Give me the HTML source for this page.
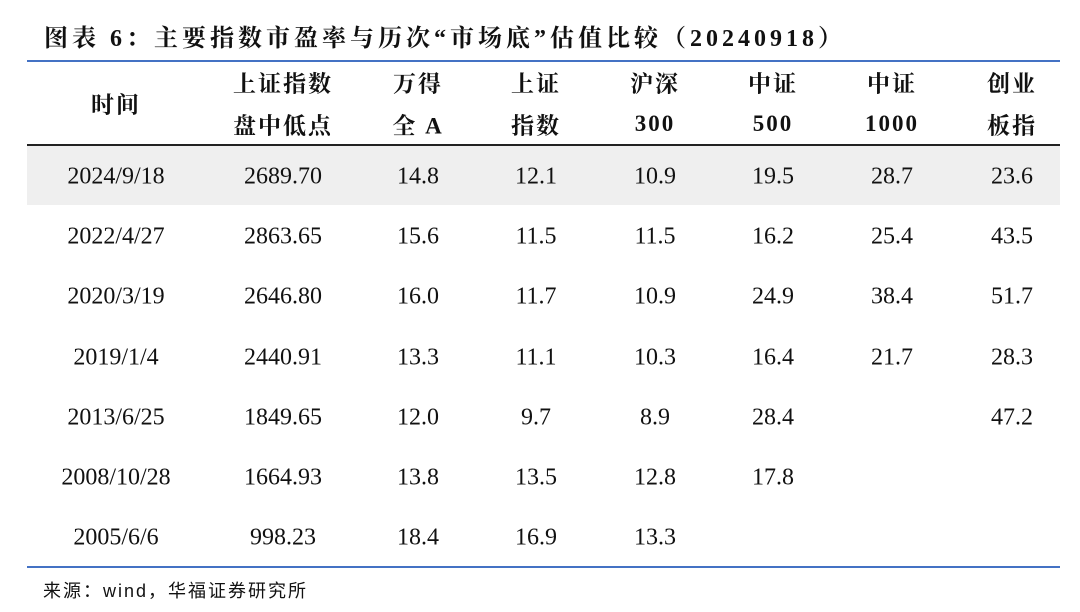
<!DOCTYPE html>
<html><head><meta charset="utf-8"><style>
body{margin:0;width:1080px;height:612px;background:#fff;position:relative;overflow:hidden;font-family:"Liberation Serif","Noto Serif CJK SC",serif;color:#111}
.t{position:absolute;white-space:nowrap;transform:translate(-50%,-50%);font-size:24px}
.h{font-family:"Liberation Serif","Noto Serif CJK SC",serif;font-weight:bold;font-size:23px;letter-spacing:2px}
</style></head><body>
<div style="position:absolute;left:44px;top:18px;font-size:24px;font-weight:bold;white-space:nowrap;letter-spacing:4px">图表 6：主要指数市盈率与历次“市场底”估值比较（20240918）</div>
<div style="position:absolute;left:27px;top:60px;width:1033px;height:2px;background:#4472c4"></div>
<div style="position:absolute;left:27px;top:144px;width:1033px;height:2px;background:#222"></div>
<div style="position:absolute;left:27px;top:146px;width:1033px;height:59px;background:#efefef"></div>
<div style="position:absolute;left:27px;top:566px;width:1033px;height:2px;background:#4472c4"></div>
<div class="t h" style="left:116px;top:103px">时间</div>
<div class="t h" style="left:283px;top:82px">上证指数</div><div class="t h" style="left:283px;top:124px">盘中低点</div>
<div class="t h" style="left:418px;top:82px">万得</div><div class="t h" style="left:418px;top:124px">全 A</div>
<div class="t h" style="left:536px;top:82px">上证</div><div class="t h" style="left:536px;top:124px">指数</div>
<div class="t h" style="left:655px;top:82px">沪深</div><div class="t h" style="left:655px;top:124px">300</div>
<div class="t h" style="left:773px;top:82px">中证</div><div class="t h" style="left:773px;top:124px">500</div>
<div class="t h" style="left:892px;top:82px">中证</div><div class="t h" style="left:892px;top:124px">1000</div>
<div class="t h" style="left:1012px;top:82px">创业</div><div class="t h" style="left:1012px;top:124px">板指</div>
<div id="rows"></div>
<div style="position:absolute;left:43px;top:577px;font-size:18px;letter-spacing:2px;font-family:'Liberation Sans','Noto Sans CJK SC',sans-serif;white-space:nowrap">来源：wind，华福证券研究所</div>
<script>
var d=[["2024/9/18","2689.70","14.8","12.1","10.9","19.5","28.7","23.6"],
["2022/4/27","2863.65","15.6","11.5","11.5","16.2","25.4","43.5"],
["2020/3/19","2646.80","16.0","11.7","10.9","24.9","38.4","51.7"],
["2019/1/4","2440.91","13.3","11.1","10.3","16.4","21.7","28.3"],
["2013/6/25","1849.65","12.0","9.7","8.9","28.4","","47.2"],
["2008/10/28","1664.93","13.8","13.5","12.8","17.8","",""],
["2005/6/6","998.23","18.4","16.9","13.3","","",""]];
var x=[116,283,418,536,655,773,892,1012],h="";
d.forEach(function(r,i){r.forEach(function(v,j){if(v)h+='<div class="t" style="left:'+x[j]+'px;top:'+(177+i*60.2)+'px">'+v+'</div>';});});
document.getElementById("rows").innerHTML=h;
</script>
</body></html>
